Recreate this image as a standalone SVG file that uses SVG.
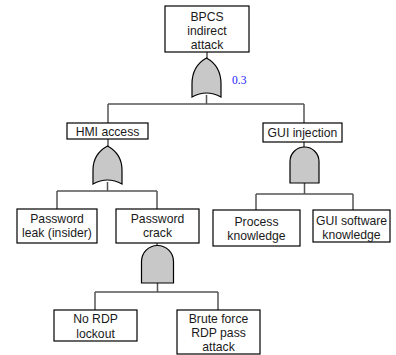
<svg xmlns="http://www.w3.org/2000/svg" width="396" height="355" viewBox="0 0 396 355">
<style>
.box{fill:#fff;stroke:#000;stroke-width:1.2}
.gate{fill:#c8c8c8;stroke:#000;stroke-width:1.2}
.ln{fill:none;stroke:#555;stroke-width:1.5}
text{font-family:"Liberation Sans",Arial,sans-serif;font-size:12.2px;fill:#1a1a1a;text-anchor:middle}
.prob{font-family:"Liberation Serif","DejaVu Serif",serif;font-size:11.5px;fill:#2020ff;text-anchor:start}
</style>
<rect width="396" height="355" fill="#fff"/>
<g id="connectors">
<path class="ln" d="M207,52 V60 M206.5,95 V104 M108,104 H304 M108,104 V123 M304,104 V123"/>
<path class="ln" d="M108,139 V148 M107.5,182 V191 M57,191 H157 M57,191 V209 M157,191 V209"/>
<path class="ln" d="M304,142 V149 M304.5,183 V194 M256,194 H353 M256,194 V210 M353,194 V210"/>
<path class="ln" d="M157,243 V247 M157.5,283 V292 M95,292 H218 M95,292 V310 M218,292 V310"/>
</g>
<g id="n-bpcs">
<rect class="box" x="165" y="6" width="84" height="46"/>
<text x="207" y="21">BPCS</text>
<text x="207" y="35">indirect</text>
<text x="207" y="49">attack</text>
</g>
<g id="g-or-top">
<path class="gate" d="M192,97 V84 Q192,66 206.5,58 Q221,66 221,84 V97 Q206.5,89 192,97 Z"/>
<text class="prob" x="232" y="84">0.3</text>
</g>
<g id="n-hmi">
<rect class="box" x="67" y="123" width="81" height="16"/>
<text x="107.5" y="136">HMI access</text>
</g>
<g id="g-or-hmi">
<path class="gate" d="M93,184 V170 Q93,154 107.5,146 Q122,154 122,170 V184 Q107.5,176 93,184 Z"/>
</g>
<g id="n-gui">
<rect class="box" x="263" y="123" width="79" height="19"/>
<text x="302.5" y="137">GUI injection</text>
</g>
<g id="g-and-gui">
<path class="gate" d="M290,183 V161.5 A14.5,14.5 0 0 1 319,161.5 V183 Z"/>
</g>
<g id="n-leak">
<rect class="box" x="17" y="209" width="80" height="34"/>
<text x="57" y="223">Password</text>
<text x="57" y="237">leak (insider)</text>
</g>
<g id="n-crack">
<rect class="box" x="116" y="209" width="83" height="34"/>
<text x="157.5" y="223">Password</text>
<text x="157.5" y="237">crack</text>
</g>
<g id="n-process">
<rect class="box" x="213" y="210" width="87" height="36"/>
<text x="256.5" y="226">Process</text>
<text x="256.5" y="240">knowledge</text>
</g>
<g id="n-guisw">
<rect class="box" x="313" y="210" width="77" height="32"/>
<text x="351.5" y="225">GUI software</text>
<text x="351.5" y="239">knowledge</text>
</g>
<g id="g-and-crack">
<path class="gate" d="M141.5,283 V261.5 A16,16 0 0 1 173.5,261.5 V283 Z"/>
</g>
<g id="n-nordp">
<rect class="box" x="54" y="310" width="83" height="31"/>
<text x="95.5" y="323">No RDP</text>
<text x="95.5" y="338">lockout</text>
</g>
<g id="n-brute">
<rect class="box" x="177" y="310" width="83" height="44"/>
<text x="218.5" y="323">Brute force</text>
<text x="218.5" y="337">RDP pass</text>
<text x="218.5" y="351">attack</text>
</g>
</svg>
